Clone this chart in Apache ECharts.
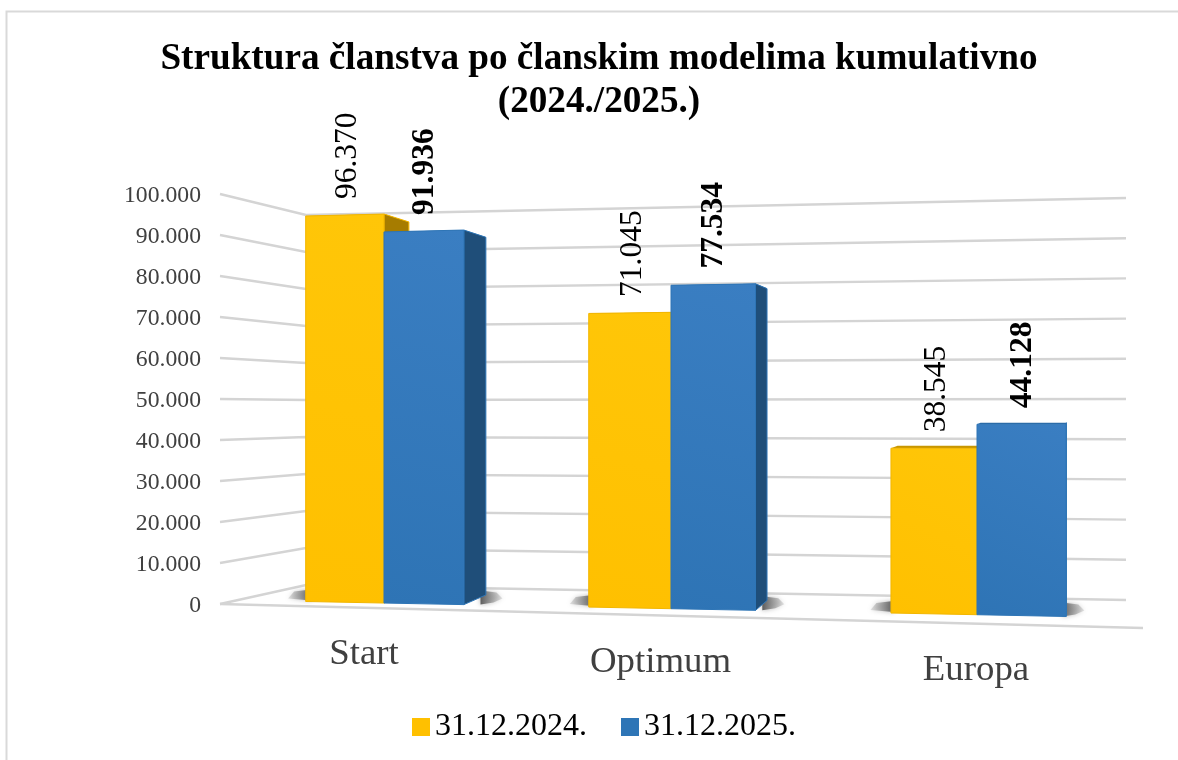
<!DOCTYPE html>
<html>
<head>
<meta charset="utf-8">
<title>Struktura članstva</title>
<script src="https://cdn.jsdelivr.net/npm/echarts@6/dist/echarts.min.js"></script>
<style>
html,body{margin:0;padding:0;background:#fff;}
#chart{width:1178px;height:760px;}
</style>
</head>
<body>
<div id="chart"></div>
<script>
// podaci
var categories = ['Start', 'Optimum', 'Europa'];
var seriesNames = ['31.12.2024.', '31.12.2025.'];
var values2024 = [96370, 71045, 38545];
var values2025 = [91936, 77534, 44128];
var yTicks = [0, 10000, 20000, 30000, 40000, 50000, 60000, 70000, 80000, 90000, 100000];

var FONT = '"Liberation Serif", "Times New Roman", serif';
var myChart = echarts.init(document.getElementById('chart'));

function fmt(v) {
	return String(v).replace(/\B(?=(\d{3})+$)/g, '.');
}
// perspektiva: os grida -> slika
function warpX(xg, api) {
	var u = (xg - api.coord([0, 0])[0]) / api.size([1, 0])[0];
	return 384 + 277.5 * u + 9.5 * u * u;
}
function floorY(x) {
	return 601.5 + 0.0197 * (x - 306);
}
function frontY(x, hpx) {
	return floorY(x) - hpx * (4.0 + 0.00047 * (x - 306)) / 4.1;
}
function depthX(x) {
	return (1075 - x) * 0.036;
}
function depthY(y) {
	return (390 - y) * 0.045;
}
function gridLine(pts) {
	return {
		type: 'polyline',
		shape: { points: pts },
		style: { stroke: '#d4d4d4', lineWidth: 2.4, fill: null }
	};
}

// zidovi i crte mreze (natpisi osi stoje 2px ispod crte)
function renderWall(params, api) {
	var v = api.value(1);
	var hpx = api.coord([0, 0])[1] - api.coord([0, v])[1];
	var leftY = api.coord([0, v])[1] - 2;
	var xl = api.coord([0, 0])[0] - api.size([1, 0])[0] / 2;
	var yb = 585 - hpx * 3.7 / 4.1;
	var yr = 600 - hpx * 4.02 / 4.1;
	var kids = [gridLine([[xl, leftY], [306, yb], [1126, yr]])];
	if (v === 0) {
		kids.push(gridLine([[xl, leftY], [1143, 628]]));
	}
	return { type: 'group', children: kids };
}

// sjena na podu
function renderShadow(params, api) {
	var i = api.value(0);
	var c = api.coord([i, 0])[0], w = api.size([1, 0])[0] * 0.28;
	var xL = warpX(c - w, api), xR = warpX(c + w, api);
	var yL = floorY(xL), yR = floorY(xR);
	var xS = xR + depthX(xR);
	return {
		type: 'group',
		children: [{
			type: 'polygon',
			shape: { points: [[xL + 4, yL - 1], [xL + 4, yL - 12], [xL - 13, yL - 10], [xL - 19, yL - 3]] },
			style: {
				fill: new echarts.graphic.LinearGradient(1, 0, 0, 0, [
					{ offset: 0, color: '#5c5c5c' }, { offset: 1, color: 'rgba(170,170,170,0.3)' }]),
				shadowBlur: 5,
				shadowColor: 'rgba(130,130,130,0.7)'
			}
		}, {
			type: 'polygon',
			shape: { points: [[xS - 4, yR], [xS - 4, yR - 14], [xS + 12, yR - 12], [xS + 18, yR - 6], [xS + 9, yR - 2]] },
			style: {
				fill: new echarts.graphic.LinearGradient(0, 0, 1, 0, [
					{ offset: 0, color: '#5c5c5c' }, { offset: 1, color: 'rgba(170,170,170,0.3)' }]),
				shadowBlur: 5,
				shadowColor: 'rgba(130,130,130,0.7)'
			}
		}]
	};
}

// 3D stupac: crta se iz vrijednosti kroz api.coord
function makeBarRender(side, colors, bold, labelShift) {
	return function (params, api) {
		var i = api.value(0), v = api.value(1);
		var c = api.coord([i, 0]);
		var top = api.coord([i, v]);
		var hpx = c[1] - top[1];
		var band = api.size([1, 0])[0];
		var xL = warpX(side < 0 ? c[0] - band * (0.285 - 0.005 * i) : c[0], api);
		var xR = warpX(side < 0 ? c[0] : c[0] + band * (0.285 - 0.0025 * i), api);
		var tL = frontY(xL, hpx), tR = frontY(xR, hpx);
		var bL = floorY(xL), bR = floorY(xR);
		var dL = depthX(xL), dR = depthX(xR);
		var mid = (xL + xR) / 2;
		return {
			type: 'group',
			children: [{
				type: 'polygon',
				shape: { points: [[xL, tL], [xR, tR], [xR + dR, tR + depthY(tR)], [xL + dL, tL + depthY(tL)]] },
				style: { fill: colors.top }
			}, {
				type: 'polygon',
				shape: { points: [[xR, tR], [xR + dR, tR + depthY(tR)], [xR + dR, bR + depthY(bR)], [xR, bR]] },
				style: { fill: colors.side, stroke: colors.edge, lineWidth: 1 }
			}, {
				type: 'polygon',
				shape: { points: [[xL, tL], [xR, tR], [xR, bR], [xL, bL]] },
				style: {
					fill: new echarts.graphic.LinearGradient(1, 0, 0, 1, [
						{ offset: 0, color: colors.light }, { offset: 1, color: colors.front }]),
					stroke: colors.edge, lineWidth: 1
				}
			}, {
				type: 'text',
				x: mid + labelShift,
				y: (tL + tR) / 2 - 16,
				rotation: Math.PI / 2,
				style: {
					text: fmt(v),
					align: 'left',
					verticalAlign: 'middle',
					fill: '#000',
					font: (bold ? 'bold ' : '') + '31.5px ' + FONT
				}
			}]
		};
	};
}

// nazivi kategorija prate nagib poda
function renderCategory(params, api) {
	var i = api.value(0);
	var c = api.coord([i, 0])[0];
	return {
		type: 'text',
		x: warpX(c, api) - 20 + 9.5 * i,
		y: 654 + 8 * i,
		style: {
			text: categories[i],
			align: 'center',
			verticalAlign: 'middle',
			fill: '#404040',
			font: '36.8px ' + FONT
		}
	};
}

var idx = categories.map(function (c, i) { return [i, 0]; });

var option = {
	animation: false,
	backgroundColor: '#fff',
	title: {
		text: 'Struktura članstva po članskim modelima kumulativno\n(2024./2025.)',
		left: 598,
		top: 33,
		textAlign: 'center',
		textStyle: { fontFamily: FONT, fontSize: 37.2, fontWeight: 'bold', color: '#000', lineHeight: 43 }
	},
	legend: {
		data: seriesNames,
		left: 407,
		top: 706,
		icon: 'rect',
		itemWidth: 18,
		itemHeight: 18,
		itemGap: 34,
		selectedMode: false,
		textStyle: { fontFamily: FONT, fontSize: 32, color: '#000' }
	},
	grid: { left: 220, top: 196, width: 923, height: 410 },
	xAxis: {
		type: 'category',
		data: categories,
		axisLine: { show: false },
		axisTick: { show: false },
		axisLabel: { show: false }
	},
	yAxis: {
		type: 'value',
		min: 0,
		max: 100000,
		interval: 10000,
		axisLine: { show: false },
		axisTick: { show: false },
		splitLine: { show: false },
		axisLabel: {
			margin: 19,
			fontFamily: FONT,
			fontSize: 23.7,
			color: '#404040',
			formatter: function (v) { return fmt(v); }
		}
	},
	graphic: [{
		type: 'rect',
		silent: true,
		shape: { x: 6.5, y: 11.5, width: 1180, height: 780 },
		style: { fill: null, stroke: '#d9d9d9', lineWidth: 2 }
	}],
	series: [{
		name: 'zid',
		type: 'custom',
		silent: true,
		z: 1,
		renderItem: renderWall,
		encode: { x: 0, y: 1 },
		data: yTicks.map(function (t) { return [0, t]; })
	}, {
		name: 'sjena',
		type: 'custom',
		silent: true,
		z: 2,
		renderItem: renderShadow,
		encode: { x: 0, y: 1 },
		data: idx
	}, {
		name: seriesNames[0],
		type: 'custom',
		z: 3,
		itemStyle: { color: '#FFC000' },
		renderItem: makeBarRender(-1, { top: '#C89600', side: '#A67C00', edge: '#F2B600', front: '#FFC000', light: '#FFC608' }, false, 3),
		encode: { x: 0, y: 1 },
		data: values2024.map(function (v, i) { return [i, v]; })
	}, {
		name: seriesNames[1],
		type: 'custom',
		z: 4,
		itemStyle: { color: '#2E75B6' },
		renderItem: makeBarRender(1, { top: '#2A69A4', side: '#1F4E79', edge: '#2E75B6', front: '#2E74B5', light: '#3A7EC2' }, true, 1),
		encode: { x: 0, y: 1 },
		data: values2025.map(function (v, i) { return [i, v]; })
	}, {
		name: 'kategorije',
		type: 'custom',
		silent: true,
		z: 5,
		renderItem: renderCategory,
		encode: { x: 0, y: 1 },
		data: idx
	}]
};
option.title.left = 594;
myChart.setOption(option);
</script>
</body>
</html>
